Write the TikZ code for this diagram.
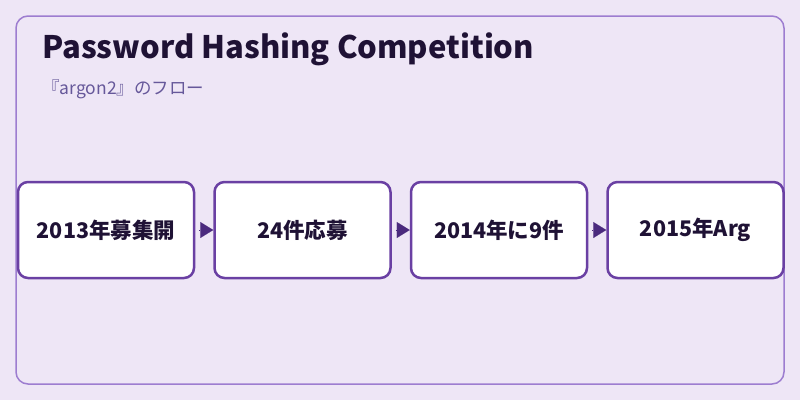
\documentclass[tikz,border=0pt]{standalone}
\usepackage{fontspec}
\setmainfont{Noto Sans CJK JP}
\usetikzlibrary{positioning,arrows.meta}
\definecolor{bgpurple}{HTML}{EEE6F6}
\definecolor{framepurple}{HTML}{9D7DD0}
\definecolor{boxline}{HTML}{6A40A3}
\definecolor{arrowfill}{HTML}{4B2A7E}
\definecolor{inkdark}{HTML}{1F1235}
\definecolor{subink}{HTML}{66589A}

\begin{document}
\begin{tikzpicture}[x=1pt,y=-1pt,
    stepbox/.style={draw=boxline,line width=2.5pt,rounded corners=10pt,fill=white,
      minimum width=176pt,minimum height=96pt,inner sep=0pt,text=inkdark,
      font=\fontsize{21.5}{24}\selectfont\bfseries},
    flow/.style={-{Triangle[length=13pt,width=16pt]},draw=arrowfill,fill=arrowfill,
      line width=0.1pt,shorten <=4pt}]
      \fill [bgpurple] (0,0) rectangle (800,400);
      \useasboundingbox (0,0) rectangle (800,400);
      \draw [framepurple,line width=1.5pt,rounded corners=12pt] (16,16) rectangle (784,384);

      \node [anchor=base west,inner sep=0pt,text=inkdark,font=\fontsize{31}{34}\selectfont\bfseries]
        (title) at (42,58) {Password Hashing Competition};
      \node [anchor=base west,inner sep=0pt,text=subink,font=\fontsize{17.5}{20}\selectfont]
        (subtitle) at (42,94) {『argon2』のフロー};

      \node [stepbox] (s1) at (106,230) {2013年募集開};
      \node [stepbox,right=18pt of s1] (s2) {24件応募};
      \node [stepbox,right=18pt of s2] (s3) {2014年に9件};
      \node [stepbox,right=18pt of s3] (s4) {2015年Arg};

      \foreach \a/\b in {s1/s2,s2/s3,s3/s4}
        \draw [flow] (\a.east) -- (\b.west);
    \end{tikzpicture}
\end{document}
